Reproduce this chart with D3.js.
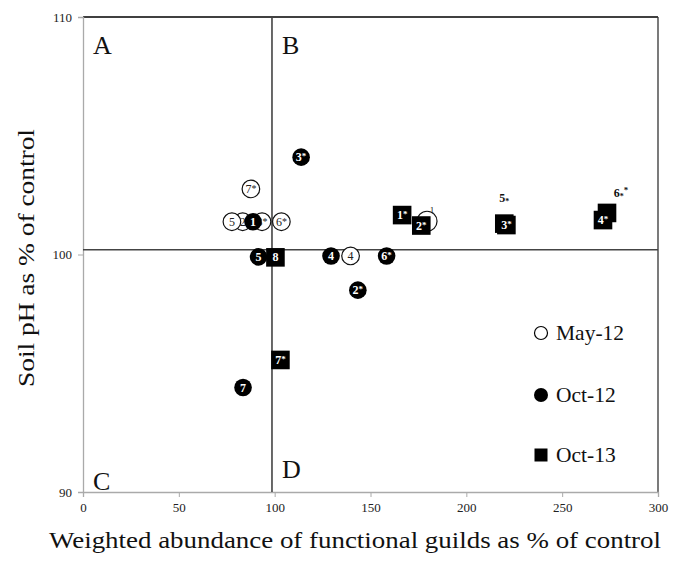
<!DOCTYPE html>
<html><head><meta charset="utf-8">
<script src="https://cdn.jsdelivr.net/npm/d3@7"></script>
<style>body{margin:0;background:#fff}</style></head>
<body><svg id="c" width="673" height="561"></svg>
<script>
const xTicks=[0,50,100,150,200,250,300];
const yTicks=[90,100,110];
const quadrants=["A","B","C","D"];
const refX=98.6, refY=100.2;
// May-12 (open circles)
const mayLabels=["1","2","3*","4","5","6*","7*"];
const mayX=[179.5,83.3,93.4,139.6,77.7,103.5,87.6];
const mayY=[101.4,101.38,101.38,99.94,101.38,101.38,102.76];
// Oct-12 (filled circles)
const oct12Labels=["1","2*","3*","4","5","6*","7"];
const oct12X=[88.7,143.4,113.8,129.4,91.6,158.4,83.5];
const oct12Y=[101.38,98.5,104.1,99.94,99.9,99.94,94.4];
// Oct-13 (squares), listed in drawing order
const oct13Labels=["8","7*","6*","5*","4*","3*","2*","1*"];
const oct13X=[100.4,103,273.4,219.8,271.3,220.9,176.5,166.5];
const oct13Y=[99.88,95.56,101.75,101.3,101.45,101.24,101.22,101.66];
const legendNames=["May-12","Oct-12","Oct-13"];

const W=673,H=561,m={l:83,r:15,t:17,b:69};
const svg=d3.select("#c");
const x=d3.scaleLinear().domain([0,300]).range([m.l,W-m.r]);
const y=d3.scaleLinear().domain([90,110]).range([H-m.b,m.t]);
const serif="'Liberation Serif','DejaVu Serif',serif";

// frame
svg.append("line").attr("x1",x(0)).attr("x2",x(300)).attr("y1",y(110)).attr("y2",y(110)).attr("stroke","#000").attr("stroke-width",1.3);
svg.append("line").attr("x1",x(300)).attr("x2",x(300)).attr("y1",y(110)).attr("y2",y(90)).attr("stroke","#333").attr("stroke-width",1.3);

const xa=svg.append("g").attr("transform",`translate(0,${y(90)})`)
  .call(d3.axisBottom(x).tickValues(xTicks).tickSize(5).tickPadding(6));
const ya=svg.append("g").attr("transform",`translate(${x(0)},0)`)
  .call(d3.axisLeft(y).tickValues(yTicks).tickSize(5).tickPadding(6));
[xa,ya].forEach(a=>{
  a.select(".domain").attr("stroke","#aaa").attr("stroke-width",1.3);
  a.selectAll(".tick line").attr("stroke","#aaa");
  a.selectAll(".tick text").attr("font-family",serif).attr("font-size",13).attr("fill","#222");
});

// reference lines
svg.append("line").attr("x1",x(refX)).attr("x2",x(refX)).attr("y1",y(110)).attr("y2",y(90)).attr("stroke","#444").attr("stroke-width",1.6);
svg.append("line").attr("x1",x(0)).attr("x2",x(300)).attr("y1",y(refY)).attr("y2",y(refY)).attr("stroke","#444").attr("stroke-width",1.6);

// quadrant letters
const qpos=[[x(0)+10,y(110)+37],[x(refX)+10,y(110)+37],[x(0)+10,y(90)-2],[x(refX)+10,y(90)-14]];
quadrants.forEach((q,i)=>svg.append("text").attr("x",qpos[i][0]).attr("y",qpos[i][1]).text(q)
  .attr("font-family",serif).attr("font-size",26).attr("fill","#111"));

function addLabel(g,lab,fill,cx,cy){
  const base=lab.replace("*","");
  const star=lab.includes("*");
  const t=g.append("text").attr("x",cx).attr("y",cy+4).attr("text-anchor","middle")
    .attr("font-family",serif).attr("font-weight","bold").attr("font-size",12).attr("fill",fill);
  t.append("tspan").text(base);
  if(star) t.append("tspan").text("*").attr("font-size",9).attr("dy",-2);
}

const r=8.8, hs=9.3;
// May-12
const gm=svg.append("g");
mayLabels.forEach((l,i)=>{
  const cx=x(mayX[i]),cy=y(mayY[i]);
  const rr = l==="1" ? 10 : r;
  gm.append("circle").attr("cx",cx).attr("cy",cy).attr("r",rr).attr("fill","#fff").attr("stroke","#111").attr("stroke-width",1.2);
  const lx = l==="1" ? cx+5 : cx, lyy = l==="1" ? cy-8 : cy+4;
  const t=gm.append("text").attr("x",lx).attr("y",lyy).attr("text-anchor","middle")
    .attr("font-family",serif).attr("font-size",l==="1"?9:12).attr("fill","#222");
  t.append("tspan").text(l.replace("*",""));
  if(l.includes("*")) t.append("tspan").text("*").attr("font-size",10).attr("dy",-1);
});
// Oct-12
const go=svg.append("g");
oct12Labels.forEach((l,i)=>{
  const cx=x(oct12X[i]),cy=y(oct12Y[i]);
  go.append("circle").attr("cx",cx).attr("cy",cy).attr("r",r).attr("fill","#000");
  addLabel(go,l,"#fff",cx,cy);
});
// Oct-13
const gs=svg.append("g");
const above=new Set(["5*","6*"]);
oct13Labels.forEach((l,i)=>{
  const cx=x(oct13X[i]),cy=y(oct13Y[i]);
  gs.append("rect").attr("x",cx-hs).attr("y",cy-hs).attr("width",2*hs).attr("height",2*hs).attr("fill","#000");
  if(above.has(l)){
    const dx=l==="6*"?14:0, dy=l==="6*"?-20:-26;
    const t=gs.append("text").attr("x",cx+dx).attr("y",cy+dy+4).attr("text-anchor","middle")
      .attr("font-family",serif).attr("font-weight","bold").attr("font-size",12).attr("fill","#111");
    t.append("tspan").text(l.replace("*",""));
    t.append("tspan").text("*").attr("font-size",8).attr("dy",2);
    if(l==="6*") t.append("tspan").text("*").attr("font-size",9).attr("dy",-6);
  } else addLabel(gs,l,"#fff",cx,cy);
});

// legend
const ly=[333,395,455];
legendNames.forEach((n,i)=>{
  const cx=541,cy=ly[i];
  if(i===0) svg.append("circle").attr("cx",cx).attr("cy",cy).attr("r",6.5).attr("fill","#fff").attr("stroke","#000").attr("stroke-width",1.2);
  if(i===1) svg.append("circle").attr("cx",cx).attr("cy",cy).attr("r",7).attr("fill","#000");
  if(i===2) svg.append("rect").attr("x",cx-6.5).attr("y",cy-6.5).attr("width",13).attr("height",13).attr("fill","#000");
  svg.append("text").attr("x",556).attr("y",cy+7).text(n).attr("font-family",serif).attr("font-size",21.5).attr("fill","#111");
});

// axis titles
svg.append("text").attr("x",355).attr("y",548).attr("text-anchor","middle")
  .attr("textLength",612).attr("lengthAdjust","spacingAndGlyphs")
  .text("Weighted abundance of functional guilds as % of control").attr("font-family",serif).attr("font-size",24).attr("fill","#111");
svg.append("text").attr("transform",`translate(34,258) rotate(-90)`).attr("text-anchor","middle")
  .attr("textLength",258).attr("lengthAdjust","spacingAndGlyphs")
  .text("Soil pH as % of control").attr("font-family",serif).attr("font-size",24).attr("fill","#111");
</script></body></html>
